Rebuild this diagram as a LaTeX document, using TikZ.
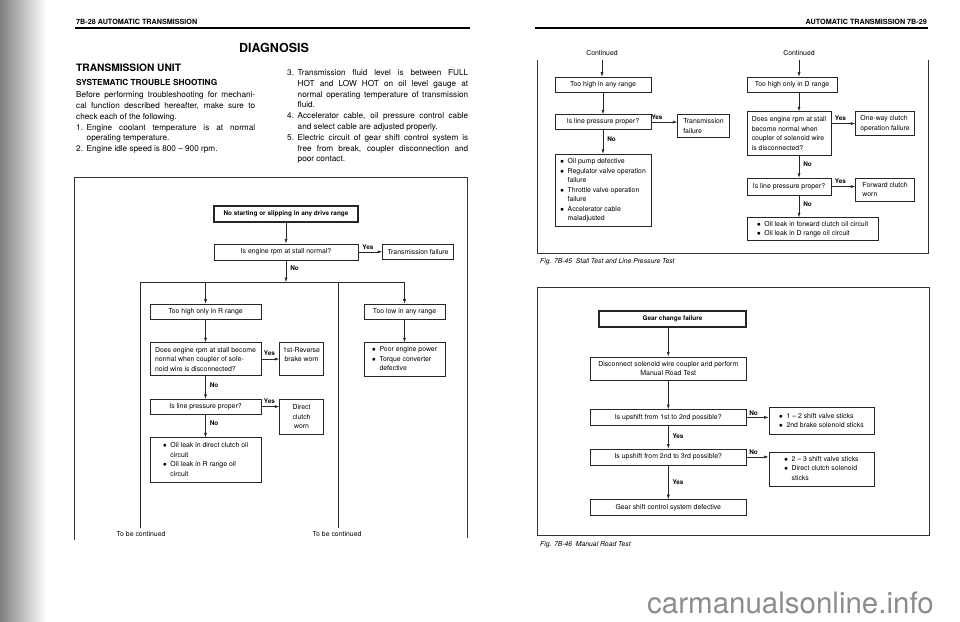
\documentclass[tikz,border=0pt]{standalone}
\usepackage{fontspec}
\setmainfont{TeX Gyre Heros}
\usetikzlibrary{positioning,arrows.meta}

\setlength\parskip{0pt}
\newcommand\fc{\fontsize{6.9}{9.5}\selectfont}
\newcommand\fcb{\fontsize{6.4}{9.5}\selectfont\bfseries}
\newcommand\bodytxt{\fontsize{8.2}{10.8}\selectfont}
\newcommand\hnum[2]{\par\hangindent=10.5pt\hangafter=1\noindent\makebox[10.5pt][l]{#1}#2}
\newcommand\bt{$\bullet$}
\newenvironment{blist}{\begin{tabular}{@{}l@{\hspace{3.5pt}}l@{}}}{\end{tabular}}

\begin{document}
\begin{tikzpicture}[
    x=1pt, y=1pt,
    every node/.append style={inner sep=0pt, text=black},
    box/.style={draw=black!85, line width=.55pt, inner xsep=3pt, inner ysep=1.5pt, font=\fc},
    topbox/.style={box, line width=1.1pt, font=\fcb},
    yn/.style={font=\fcb, inner sep=1pt},
    arr/.style={draw=black!85, line width=.55pt, -{Latex[length=4.5pt,width=3pt]}},
    conn/.style={draw=black!85, line width=.55pt},
    pageframe/.style={draw=black!80, line width=.7pt},
  ]
\useasboundingbox (0,0) rectangle (960,-621);

% scanned edge of the left page
\shade[left color=black!50, right color=white] (0,0) rectangle (46,-621);

% ---- left page text
\node (hdL) [anchor=base west, font=\fontsize{7.2}{8}\selectfont\bfseries] at (76,-24.5) {7B-28 AUTOMATIC TRANSMISSION};
\draw[line width=1.4pt] (75,-28) -- (470,-28);
\node (diag) [anchor=base, font=\fontsize{12.5}{14}\selectfont\bfseries] at (274,-52.5) {DIAGNOSIS};
\node (unit) [anchor=base west, font=\fontsize{10.2}{11}\selectfont\bfseries] at (76,-71.5) {TRANSMISSION UNIT};
\node (sys) [anchor=base west, font=\fontsize{8.3}{9}\selectfont\bfseries] at (76,-85.7) {SYSTEMATIC TROUBLE SHOOTING};
\node (intro) [anchor=north west, text width=179pt, align=justify, font=\bodytxt] at (76,-91.5) {\tolerance=10000
  \noindent Before performing troubleshooting for mechani-\linebreak cal function described hereafter, make sure to\linebreak check each of the following.
  \hnum{1.}{Engine coolant temperature is at normal\linebreak operating temperature.}
  \hnum{2.}{Engine idle speed is 800 -- 900 rpm.}\par};
\node (checks) [anchor=north west, text width=181pt, align=justify, font=\bodytxt] at (287,-64.5) {\tolerance=10000
  \hnum{3.}{Transmission fluid level is between FULL\linebreak HOT and LOW HOT on oil level gauge at\linebreak normal operating temperature of transmission\linebreak fluid.}
  \hnum{4.}{Accelerator cable, oil pressure control cable\linebreak and select cable are adjusted properly.}
  \hnum{5.}{Electric circuit of gear shift control system is\linebreak free from break, coupler disconnection and\linebreak poor contact.}\par};

% ---- left flow chart
\draw[pageframe] (74,-540) -- (74,-177) -- (467,-177) -- (467,-538);
\node (start) [topbox, minimum width=144pt, minimum height=16pt] at (286,-214) {No starting or slipping in any drive range};
\node (stall) [box, minimum width=144pt, minimum height=16pt, below=21pt of start] {Is engine rpm at stall normal?};
\node (tfail) [box, minimum width=71pt, minimum height=15pt, right=24pt of stall] {Transmission failure};
\coordinate [below=22pt of stall] (split);
\coordinate (legA) at (140,-528);
\coordinate (legB) at (338,-528);
\node (rhigh) [box, minimum width=111pt, minimum height=15pt] at (205.5,-311.5) {Too high only in R range};
\node (rstall) [box, align=left, minimum width=111pt, minimum height=33pt, below=23pt of rhigh] {Does engine rpm at stall become\\normal when coupler of sole-\\noid wire is disconnected?};
\node (rev) [box, align=center, minimum width=44pt, minimum height=33pt, right=18pt of rstall] {1st-Reverse\\brake worn\\\mbox{}};
\node (rline) [box, minimum width=111pt, minimum height=15pt, below=23pt of rstall] {Is line pressure proper?};
\node (dclutch) [box, align=center, minimum width=44pt, minimum height=35pt, right=18pt of rline.north east, anchor=north west] {Direct\\clutch\\worn};
\node (rleak) [box, minimum width=111pt, minimum height=45pt, below=23pt of rline] {\begin{blist}
    \bt & Oil leak in direct clutch oil\\
        & circuit\\
    \bt & Oil leak in R range oil\\
        & circuit
  \end{blist}};
\node (tlow) [box, minimum width=81pt, minimum height=15pt] at (404.5,-311.5) {Too low in any range};
\node (power) [box, minimum width=81pt, minimum height=34pt, below=23pt of tlow] {\begin{blist}
    \bt & Poor engine power\\
    \bt & Torque converter\\
        & defective
  \end{blist}};
\node (contA) [font=\fc, anchor=base] at (141,-536.5) {To be continued};
\node (contB) [font=\fc, anchor=base] at (337,-536.5) {To be continued};

\draw[arr] (start) -- (stall);
\draw[arr] (stall.east) -- node[yn, above=1pt, pos=.4] (y1) {Yes} (stall.east -| tfail.west);
\draw[arr] (stall) -- node[yn, right=3pt, pos=.38] (n1) {No} (split);
\draw[arr] (legA) -- (legA |- split) -- (split -| tlow) -- (tlow);
\draw[arr] (split -| rhigh) -- (rhigh);
\draw[conn] (legB |- split) -- (legB);
\draw[arr] (rhigh) -- (rstall);
\draw[arr] (rstall.east) -- node[yn, above=2pt, pos=.45] (y2) {Yes} (rstall.east -| rev.west);
\draw[arr] (rstall) -- node[yn, right=3pt, pos=.4] (n2) {No} (rline);
\draw[arr] (rline.east) -- node[yn, above=2pt, pos=.45] (y3) {Yes} (rline.east -| dclutch.west);
\draw[arr] (rline) -- node[yn, right=3pt, pos=.38] (n3) {No} (rleak);
\draw[arr] (tlow) -- (power);

% ---- right page, stall test
\node (hdR) [anchor=base east, font=\fontsize{7.2}{8}\selectfont\bfseries] at (927,-24.5) {AUTOMATIC TRANSMISSION 7B-29};
\draw[line width=1.6pt] (535,-28) -- (928,-28);
\draw[pageframe] (537,-60) -- (537,-253) -- (928,-253) -- (928,-60);

\node (contC) [font=\fc, anchor=base] at (602,-55.5) {Continued};
\node (thigh) [box, minimum width=96pt, minimum height=15pt] at (603,-84.5) {Too high in any range};
\node (lp1) [box, minimum width=96pt, minimum height=15pt, below=22pt of thigh] {Is line pressure proper?};
\node (tf2) [box, align=left, minimum width=52pt, minimum height=23pt, right=26pt of lp1.north east, anchor=north west] {Transmission\\failure};
\node (pump) [box, minimum width=96pt, minimum height=72pt, below=24pt of lp1] {\begin{blist}
    \bt & Oil pump defective\\
    \bt & Regulator valve operation\\
        & failure\\
    \bt & Throttle valve operation\\
        & failure\\
    \bt & Accelerator cable\\
        & maladjusted
  \end{blist}};

\node (contD) [font=\fc, anchor=base] at (799,-55.5) {Continued};
\node (dhigh) [box, minimum width=90pt, minimum height=15pt] at (792,-84.5) {Too high only in D range};
\node (dstall) [box, align=left, minimum width=84pt, minimum height=44pt, below=19pt of dhigh.south west, anchor=north west] {Does engine rpm at stall\\become normal when\\coupler of solenoid wire\\is disconnected?};
\node (oneway) [box, align=left, minimum width=59pt, minimum height=24pt, right=24pt of dstall.north east, anchor=north west] {One-way clutch\\operation failure};
\node (dline) [box, minimum width=84pt, minimum height=17pt, below=22pt of dstall.south west, anchor=north west] {Is line pressure proper?};
\node (fwd) [box, align=left, minimum width=59pt, minimum height=23pt, right=24pt of dline.north east, anchor=north west] {Forward clutch\\worn};
\node (dleak) [box, minimum width=131pt, minimum height=23pt, below=22pt of dline.south west, anchor=north west] {\begin{blist}
    \bt & Oil leak in forward clutch oil circuit\\
    \bt & Oil leak in D range oil circuit
  \end{blist}};
\node (figA) [anchor=base west, font=\fontsize{6.8}{7}\selectfont\itshape] at (540,-263) {Fig. 7B-45\ \ Stall Test and Line Pressure Test};

\draw[arr] ([yshift=-4pt]contC.south) -- (contC.south |- thigh.north);
\draw[arr] (thigh) -- (lp1);
\draw[arr] (lp1.east) -- node[yn, above=1pt, pos=.22] (y4) {Yes} (lp1.east -| tf2.west);
\draw[arr] (lp1) -- node[yn, right=3pt, pos=.38] (n4) {No} (pump);
\draw[arr] ([yshift=-4pt]contD.south) -- (contD.south |- dhigh.north);
\draw[arr] (contD |- dhigh.south) -- (contD |- dstall.north);
\draw[arr] (dstall.east |- oneway.west) -- node[yn, above=1.5pt, pos=.38] (y5) {Yes} (oneway.west);
\draw[arr] (contD |- dstall.south) -- node[yn, right=3pt, pos=.38] (n5) {No} (contD |- dline.north);
\draw[arr] (dline.east) -- node[yn, above=1.5pt, pos=.38] (y6) {Yes} (dline.east -| fwd.west);
\draw[arr] (contD |- dline.south) -- node[yn, right=3pt, pos=.38] (n6) {No} (contD |- dleak.north);

% ---- right page, road test
\draw[pageframe] (537,-287) rectangle (929,-535);
\node (gear) [topbox, minimum width=147pt, minimum height=16pt] at (672.5,-319) {Gear change failure};
\node (disc) [box, align=center, minimum width=156pt, minimum height=23pt, below=29pt of gear.south east, anchor=north east] {Disconnect solenoid wire coupler and perform\\Manual Road Test};
\node (up12) [box, minimum width=156pt, minimum height=16pt, below=29pt of disc] {Is upshift from 1st to 2nd possible?};
\node (r12) [box, minimum width=105pt, minimum height=27pt, right=22pt of up12.north east, anchor=north west, yshift=2pt] {\begin{blist}
    \bt & 1 -- 2 shift valve sticks\\
    \bt & 2nd brake solenoid sticks
  \end{blist}};
\node (up23) [box, minimum width=156pt, minimum height=16pt, below=23pt of up12] {Is upshift from 2nd to 3rd possible?};
\node (r23) [box, minimum width=105pt, minimum height=34pt, right=22pt of up23.north east, anchor=north west, yshift=-3pt] {\begin{blist}
    \bt & 2 -- 3 shift valve sticks\\
    \bt & Direct clutch solenoid\\
        & sticks
  \end{blist}};
\node (gsc) [box, minimum width=156pt, minimum height=16pt, below=34pt of up23] {Gear shift control system defective};
\node (figB) [anchor=base west, font=\fontsize{6.8}{7}\selectfont\itshape] at (540,-546) {Fig. 7B-46\ \ Manual Road Test};

\draw[arr] (gear.south -| disc) -- (disc);
\draw[arr] (disc) -- (up12);
\draw[arr] (up12.east) -- node[yn, above=1pt, pos=.32] (n7) {No} (up12.east -| r12.west);
\draw[arr] (up12) -- node[yn, right=3pt, pos=.45] (y7) {Yes} (up23);
\draw[arr] (up23.east) -- node[yn, above=1pt, pos=.32] (n8) {No} (up23.east -| r23.west);
\draw[arr] (up23) -- node[yn, right=3pt, pos=.5] (y8) {Yes} (gsc);

% watermark
\node (wm) [anchor=base west, font=\fontsize{29.5}{31}\selectfont, text=black!45] at (647,-613) {carmanualsonline.info};
\end{tikzpicture}
\end{document}
